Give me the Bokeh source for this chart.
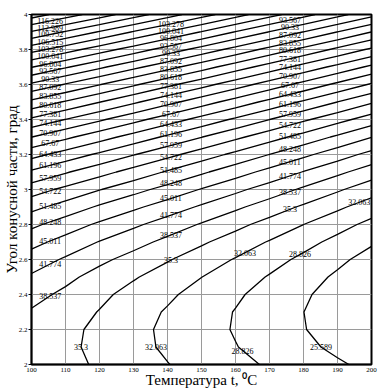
import numpy as np
from bokeh.plotting import figure
from bokeh.plotting.contour import contour_data
from bokeh.models import FixedTicker, PrintfTickFormatter
from bokeh.core.properties import value
from bokeh.embed import file_html
from bokeh.resources import INLINE

# ---- data ----
temps = [100, 110, 120, 130, 140, 150, 160, 170, 180, 190, 200]
angles = [2.0, 2.1, 2.2, 2.3, 2.4, 2.5, 2.6, 2.7, 2.8, 2.9, 3.0,
          3.1, 3.2, 3.3, 3.4, 3.5, 3.6, 3.7, 3.8, 3.9, 4.0]
# one row per angle (bottom to top), one column per temperature
z_a20 = [37.07, 36.14, 34.91, 33.38, 32.15, 30.92, 29.69, 28.46, 27.23, 26.00, 24.77]
z_a21 = [36.95, 35.91, 34.58, 32.94, 31.61, 30.28, 28.94, 27.61, 26.27, 24.94, 23.61]
z_a22 = [37.22, 36.08, 34.64, 32.91, 31.47, 30.03, 28.59, 27.15, 25.72, 24.28, 22.84]
z_a23 = [38.25, 36.85, 35.16, 33.32, 31.78, 30.24, 28.69, 27.15, 25.61, 24.07, 22.53]
z_a24 = [39.57, 37.87, 36.03, 34.23, 32.59, 30.94, 29.29, 27.65, 26.00, 24.36, 22.71]
z_a25 = [41.35, 39.35, 37.35, 35.60, 33.85, 32.10, 30.35, 28.60, 26.85, 25.10, 23.35]
z_a26 = [43.47, 41.37, 39.26, 37.41, 35.55, 33.70, 31.85, 29.99, 28.14, 26.28, 24.43]
z_a27 = [46.05, 43.84, 41.63, 39.67, 37.71, 35.76, 33.80, 31.84, 29.88, 27.92, 25.97]
z_a28 = [48.97, 46.71, 44.45, 42.38, 40.32, 38.26, 36.20, 34.14, 32.07, 30.01, 27.95]
z_a29 = [52.45, 50.13, 47.81, 45.65, 43.48, 41.32, 39.15, 36.98, 34.82, 32.65, 30.49]
z_a30 = [56.27, 53.95, 51.63, 49.36, 47.09, 44.82, 42.55, 40.28, 38.01, 35.74, 33.47]
z_a31 = [60.65, 58.27, 55.90, 53.52, 51.15, 48.78, 46.40, 44.03, 41.65, 39.28, 36.91]
z_a32 = [65.57, 63.09, 60.61, 58.14, 55.66, 53.18, 50.70, 48.22, 45.75, 43.27, 40.79]
z_a33 = [70.95, 68.36, 65.78, 63.20, 60.62, 58.04, 55.45, 52.87, 50.29, 47.71, 45.13]
z_a34 = [76.77, 74.08, 71.40, 68.71, 66.03, 63.34, 60.65, 57.97, 55.28, 52.60, 49.91]
z_a35 = [83.05, 80.26, 77.47, 74.68, 71.89, 69.10, 66.31, 63.52, 60.73, 57.94, 55.15]
z_a36 = [89.77, 86.88, 83.98, 81.09, 78.19, 75.30, 72.41, 69.51, 66.62, 63.72, 60.83]
z_a37 = [96.95, 93.95, 90.95, 87.95, 84.95, 81.96, 78.96, 75.96, 72.96, 69.96, 66.97]
z_a38 = [104.57, 101.47, 98.37, 95.26, 92.16, 89.06, 85.96, 82.86, 79.75, 76.65, 73.55]
z_a39 = [112.65, 109.44, 106.23, 103.03, 99.82, 96.62, 93.41, 90.20, 87.00, 83.79, 80.59]
z_a40 = [121.17, 117.86, 114.55, 111.24, 107.93, 104.62, 101.31, 98.00, 94.69, 91.38, 88.07]

levels = [25.589, 28.826, 32.063, 35.3, 38.537, 41.774, 45.011, 48.248, 51.485,
          54.722, 57.959, 61.196, 64.433, 67.67, 70.907, 74.144, 77.381, 80.618,
          83.855, 87.092, 90.33, 93.567, 96.804, 100.041, 103.278, 106.515,
          109.752, 112.989, 116.226, 119.463]

x_ticks = [100, 110, 120, 130, 140, 150, 160, 170, 180, 190, 200]
x_tick_labels = ["100", "110", "120", "130", "140", "150", "160", "170", "180", "190", "200"]
y_ticks = [2.0, 2.2, 2.4, 2.6, 2.8, 3.0, 3.2, 3.4, 3.6, 3.8, 4.0]
y_tick_labels = ["2", "2.2", "2.4", "2.6", "2.8", "3", "3.2", "3.4", "3.6", "3.8", "4"]

label_left_T = 105.5
label_left_levels = [38.537, 41.774, 45.011, 48.248, 51.485, 54.722, 57.959, 61.196,
                     64.433, 67.67, 70.907, 74.144, 77.381, 80.618, 83.855, 87.092,
                     90.33, 93.567, 96.804, 100.041, 103.278, 106.515, 109.752,
                     112.989, 116.226]
label_mid_T = 141.0
label_mid_levels = [35.3, 38.537, 41.774, 45.011, 48.248, 51.485, 54.722, 57.959,
                    61.196, 64.433, 67.67, 70.907, 74.144, 77.381, 80.618, 83.855,
                    87.092, 90.33, 93.567, 96.804, 100.041, 103.278]
label_right_T = 176.0
label_right_levels = [35.3, 38.537, 41.774, 45.011, 48.248, 51.485, 54.722, 57.959,
                      61.196, 64.433, 67.67, 70.907, 74.144, 77.381, 80.618, 83.855,
                      87.092, 90.33, 93.567]
label_extra_levels_T = [32.063, 32.063, 28.826]
label_extra_T = [196.4, 162.8, 179.0]
label_low_levels = [35.3, 32.063, 28.826, 25.589]
label_low_angle = [2.1, 2.1, 2.08, 2.1]

Z = np.array([z_a20, z_a21, z_a22, z_a23, z_a24, z_a25, z_a26, z_a27, z_a28, z_a29,
              z_a30, z_a31, z_a32, z_a33, z_a34, z_a35, z_a36, z_a37, z_a38, z_a39,
              z_a40])
X = np.array(temps, dtype=float)
Y = np.array(angles, dtype=float)

p = figure(width=380, height=390, x_range=(100, 200), y_range=(2, 4),
           output_backend="svg", toolbar_location=None,
           min_border_top=14, min_border_right=9, min_border_left=0, min_border_bottom=0)

p.contour(X, Y, Z, levels, line_color="black", line_width=1.3)

cd = contour_data(x=X, y=Y, z=Z, levels=levels, want_fill=False, want_line=True)
line_xs = cd.line_data.xs
line_ys = cd.line_data.ys


def cross(a_vals, b_vals, target):
    a_vals = np.asarray(a_vals, dtype=float)
    b_vals = np.asarray(b_vals, dtype=float)
    for i in range(len(a_vals) - 1):
        a1, a2, b1, b2 = a_vals[i], a_vals[i + 1], b_vals[i], b_vals[i + 1]
        if np.isnan(a1) or np.isnan(a2) or a1 == a2:
            continue
        if (a1 - target) * (a2 - target) <= 0:
            t = (target - a1) / (a2 - a1)
            return b1 + t * (b2 - b1)
    return None


lx, ly, lt = [], [], []


def add_at_T(level, T):
    i = levels.index(level)
    yv = cross(line_xs[i], line_ys[i], T)
    if yv is not None:
        lx.append(T); ly.append(yv); lt.append(str(level))


def add_at_a(level, a):
    i = levels.index(level)
    xv = cross(line_ys[i], line_xs[i], a)
    if xv is not None:
        lx.append(xv); ly.append(a); lt.append(str(level))


for lv in label_left_levels:
    add_at_T(lv, label_left_T)
for lv in label_mid_levels:
    add_at_T(lv, label_mid_T)
for lv in label_right_levels:
    add_at_T(lv, label_right_T)
for lv, T in zip(label_extra_levels_T, label_extra_T):
    add_at_T(lv, T)
for lv, a in zip(label_low_levels, label_low_angle):
    add_at_a(lv, a)

p.text(x=lx, y=ly, text=lt, text_font=value("Liberation Sans Narrow"),
       text_font_size="8px", text_color="black", text_align="center",
       text_baseline="middle")

p.xgrid.ticker = FixedTicker(ticks=x_ticks)
p.ygrid.ticker = FixedTicker(ticks=y_ticks)
p.grid.grid_line_color = "#9a9a9a"
p.grid.grid_line_width = 1

p.xaxis.ticker = FixedTicker(ticks=x_ticks)
p.yaxis.ticker = FixedTicker(ticks=y_ticks)
p.xaxis.formatter = PrintfTickFormatter(format="%g")
p.yaxis.formatter = PrintfTickFormatter(format="%g")
p.xaxis.major_label_overrides = {v: s for v, s in zip(x_ticks, x_tick_labels)}
p.yaxis.major_label_overrides = {v: s for v, s in zip(y_ticks, y_tick_labels)}

for ax in (p.xaxis[0], p.yaxis[0]):
    ax.axis_line_color = "black"
    ax.axis_line_width = 1.5
    ax.major_tick_line_color = "black"
    ax.major_tick_in = 0
    ax.minor_tick_line_color = None
    ax.major_label_text_font = "Liberation Sans Narrow"
    ax.major_label_text_font_size = "7px"
    ax.major_label_text_color = "black"
    ax.axis_label_text_font = "Liberation Serif"
    ax.axis_label_text_font_style = "normal"
    ax.axis_label_text_color = "black"
    ax.axis_label_text_font_size = "15px"

p.xaxis.major_tick_out = 0
p.xaxis.major_label_standoff = 3
p.xaxis.axis_label_standoff = -3
p.yaxis.major_tick_out = 3
p.yaxis.major_label_standoff = 1
p.yaxis.axis_label_standoff = -4
p.xaxis.axis_label = "Температура t, ⁰C"
p.yaxis.axis_label = "Угол конусной части, град"

p.outline_line_color = "black"
p.outline_line_width = 2
p.background_fill_color = "white"
p.border_fill_color = "white"

open("out.html", "w").write(file_html(p, INLINE))
